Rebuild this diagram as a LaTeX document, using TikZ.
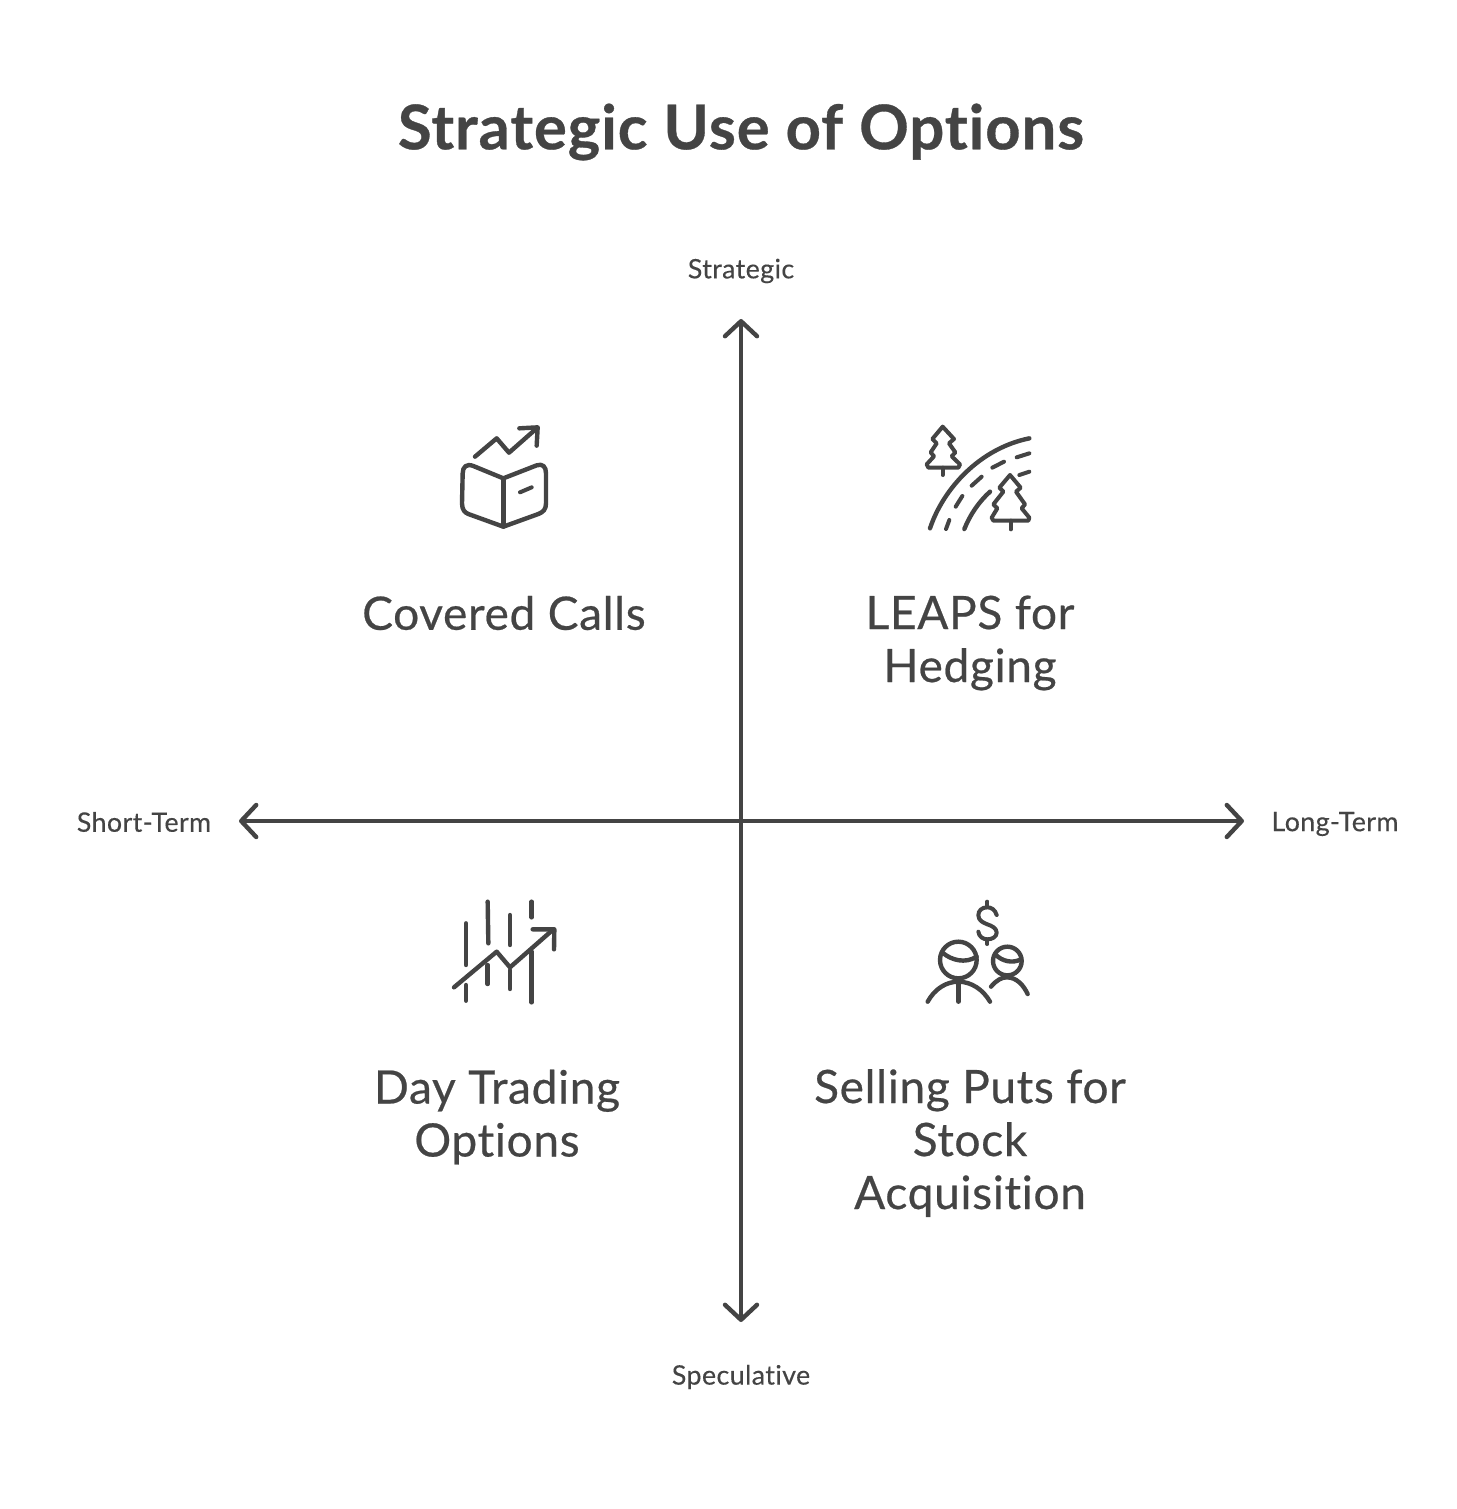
\documentclass[tikz,border=0pt]{standalone}
\usepackage{fontspec}
\setmainfont[Ligatures=CommonOff]{Lato}
\newfontfamily\quadfont[LetterSpace=1.5,Ligatures=CommonOff,RawFeature={embolden=0.5}]{Lato}
\newfontfamily\labelfont[LetterSpace=1.5,Ligatures=CommonOff,RawFeature={embolden=0.3}]{Lato}
\newfontfamily\titlefont[LetterSpace=1.5,Ligatures=CommonOff,RawFeature={embolden=0.5}]{Lato Bold}
\usetikzlibrary{arrows.meta}
\definecolor{ink}{HTML}{444444}
\tikzset{
  titletext/.style={text=ink,font=\titlefont\fontsize{30.8}{36}\selectfont,inner sep=0pt},
  quadtext/.style={text=ink,align=center,inner sep=0pt,font=\quadfont\fontsize{23}{26.5}\selectfont},
  axistext/.style={text=ink,inner sep=0pt,font=\labelfont\fontsize{13.4}{16}\selectfont},
  axisline/.style={draw=ink,line width=2.2pt,line cap=round,line join=round,
    {Straight Barb[length=7.5pt,width=16pt,line width=2.2pt,round]}-{Straight Barb[length=7.5pt,width=16pt,line width=2.2pt,round]}},
  iconline/.style={draw=ink,line width=2.2pt,line cap=round,line join=round},
  iconthin/.style={draw=ink,line width=2pt,line cap=round,line join=round},
  iconarea/.style={x=0.16667pt,y=-0.16667pt}
}
\begin{document}
\begin{tikzpicture}[x=0.5pt,y=-0.5pt]
\useasboundingbox[fill=white] (0,0) rectangle (1456,1509);
% title
\node[titletext] (title) at (741,132) {Strategic Use of Options};
% axes
\coordinate (top) at (741,319);
\coordinate (bottom) at (741,1322);
\coordinate (left) at (239,821);
\coordinate (right) at (1244,821);
\draw[axisline] (bottom) -- (top);
\draw[axisline] (left) -- (right);
% axis labels
\node[axistext] (lblS) at (741,271) {Strategic};
\node[axistext] (lblD) at (741,1377) {Speculative};
\node[axistext] (lblL) at (144,822) {Short-Term};
\node[axistext] (lblR) at (1335,824) {Long-Term};
% quadrant labels
\node[quadtext] (q1) at (504,613) {Covered Calls};
\node[quadtext] (q2) at (970,643) {LEAPS for\\Hedging};
\node[quadtext] (q3) at (497,1117) {Day Trading\\Options};
\node[quadtext] (q4) at (970,1143) {Selling Puts for\\Stock\\Acquisition};
% icon: book with arrow
\begin{scope}[shift={(440,410)},iconarea]
  \draw[iconline] (105,140) -- (170,85) -- (207,128) -- (290,55);
  \draw[iconline] (238,55) -- (293,52) -- (290,107);
  \draw[iconline] (190,205) -- (100,168) .. controls (80,160) and (68,170) .. (68,190)
    -- (66,280) .. controls (66,300) and (75,308) .. (85,312) -- (190,350) -- (295,312)
    .. controls (310,306) and (318,298) .. (318,280) -- (318,190) .. controls (318,170) and (308,160) .. (290,166) -- cycle;
  \draw[iconline] (190,205) -- (190,350);
  \draw[iconthin] (240,247) -- (275,232);
\end{scope}
% icon: road and trees
\begin{scope}[shift={(910,415)},iconarea]
  \draw[iconthin] (98,35) -- (67,72) -- (80,85) -- (62,112) -- (72,124) -- (50,148) -- (55,158) -- (145,158) -- (150,148) -- (125,124) -- (136,112) -- (117,85) -- (132,72) -- cycle;
  \draw[iconthin] (98,158) -- (98,180);
  \draw[iconthin] (300,180) -- (268,218) -- (280,230) -- (250,268) -- (262,280) -- (245,308) -- (250,317) -- (355,317) -- (358,308) -- (335,280) -- (345,268) -- (318,230) -- (332,218) -- cycle;
  \draw[iconthin] (302,317) -- (302,343);
  \draw[iconline] (60,340) .. controls (100,220) and (210,100) .. (358,70);
  \draw[iconline] (163,342) .. controls (180,300) and (205,262) .. (240,230);
  \draw[iconthin] (108,342) -- (118,315);
  \draw[iconthin] (137,275) -- (157,243);
  \draw[iconthin] (185,212) -- (215,185);
  \draw[iconthin] (247,158) -- (282,140);
  \draw[iconthin] (320,127) -- (358,115);
  \draw[iconthin] (328,180) -- (358,170);
\end{scope}
% icon: trading bars
\begin{scope}[shift={(440,890)},iconarea]
  \draw[iconline] (42,292) -- (170,185) -- (210,232) -- (340,118);
  \draw[iconline] (278,118) -- (343,118) -- (342,178);
  \foreach \xa/\ya/\xb/\yb in {78/100/78/225, 78/285/78/332, 143/35/145/160, 143/225/143/282, 210/75/210/165, 210/240/210/297, 275/35/275/82, 275/185/275/337}
    \draw[iconline] (\xa,\ya) -- (\xb,\yb);
\end{scope}
% icon: people with dollar
\begin{scope}[shift={(915,890)},iconarea]
  \draw[iconthin] (217,35) -- (217,50);
  \draw[iconthin] (217,148) -- (217,162);
  \draw[iconthin] (245,75) .. controls (240,58) and (228,52) .. (217,52)
    .. controls (200,52) and (190,62) .. (190,76)
    .. controls (190,92) and (205,98) .. (217,103)
    .. controls (232,108) and (245,115) .. (245,128)
    .. controls (245,140) and (232,148) .. (217,148)
    .. controls (204,148) and (192,140) .. (190,125);
  \draw[iconline] (130,210) circle[radius=55];
  \draw[iconline] (85,190) .. controls (110,210) and (150,222) .. (185,200);
  \draw[iconline] (38,335) .. controls (60,295) and (95,275) .. (130,275) .. controls (170,275) and (205,300) .. (225,335);
  \draw[iconline] (130,275) -- (130,335);
  \draw[iconline] (277,213) circle[radius=43];
  \draw[iconline] (243,195) .. controls (260,212) and (290,222) .. (318,208);
  \draw[iconline] (228,290) .. controls (245,270) and (260,262) .. (275,262) .. controls (305,262) and (325,285) .. (338,312);
\end{scope}
\end{tikzpicture}
\end{document}
